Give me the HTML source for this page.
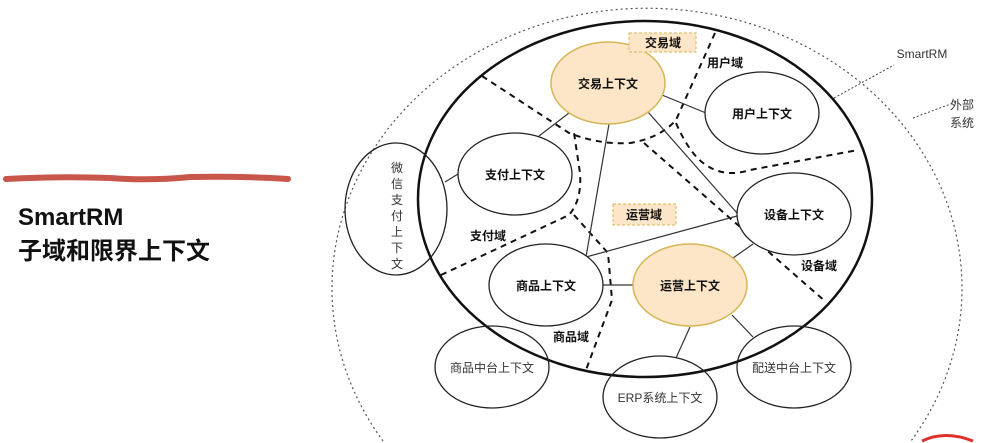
<!DOCTYPE html>
<html><head><meta charset="utf-8"><style>
html,body{margin:0;padding:0;background:#fff;width:988px;height:443px;overflow:hidden;}
svg{display:block;overflow:hidden;}
text{font-family:"Liberation Sans","Noto Sans CJK SC",sans-serif;}
</style></head><body>
<svg width="988" height="443" viewBox="0 0 988 443" xmlns="http://www.w3.org/2000/svg">
<path d="M6,179 Q60,176 110,178 Q150,181 190,177 Q240,176 288,179" stroke="#c8564a" stroke-width="6" fill="none" stroke-linecap="round"/>
<text x="18" y="225" font-size="24" font-weight="bold" fill="#111">SmartRM</text>
<text x="18" y="259" font-size="24" font-weight="bold" fill="#111">子域和限界上下文</text>

<path d="M383,441 A315,280 0 1 1 911,441" fill="none" stroke="#555" stroke-width="1.2" stroke-dasharray="2,3"/>
<ellipse cx="645" cy="199" rx="227" ry="178" fill="none" stroke="#111" stroke-width="2.5"/>

<g fill="none" stroke="#111" stroke-width="2" stroke-dasharray="6,5">
<path d="M482,76 L569,133 Q600,145 630,143 Q660,138 676,120 L715,33"/>
<path d="M441,275 L569,215 Q582,200 580,173 L574,133"/>
<path d="M574,215 L608,253 L612,300 L586,370"/>
<path d="M644,143 L826,302"/>
<path d="M676,123 Q690,155 706,165 Q725,178 750,170 L858,150"/>
</g>

<g stroke="#333" stroke-width="1.2">
<line x1="569" y1="113" x2="539" y2="136"/>
<line x1="662" y1="95" x2="706" y2="113"/>
<line x1="609" y1="124" x2="586" y2="257"/>
<line x1="648" y1="112" x2="737" y2="213"/>
<line x1="586" y1="257" x2="737" y2="216"/>
<line x1="458" y1="174" x2="445" y2="182"/>
<line x1="603" y1="285" x2="634" y2="285"/>
<line x1="733" y1="258" x2="753" y2="244"/>
<line x1="690" y1="327" x2="676" y2="358"/>
<line x1="732" y1="315" x2="753" y2="337"/>
</g>

<g stroke="#222" stroke-width="1.3" fill="#fff">
<ellipse cx="762" cy="113" rx="57" ry="41"/>
<ellipse cx="515" cy="174" rx="57" ry="41"/>
<ellipse cx="396" cy="209" rx="51" ry="66" fill="none"/>
<ellipse cx="794" cy="214" rx="57" ry="41"/>
<ellipse cx="546" cy="285" rx="57" ry="41"/>
<ellipse cx="492" cy="367" rx="57" ry="41" fill="none"/>
<ellipse cx="660" cy="397" rx="57" ry="41" fill="none"/>
<ellipse cx="794" cy="367" rx="57" ry="41" fill="none"/>
</g>
<g stroke="#d6b656" stroke-width="1.5" fill="#fde6c8">
<ellipse cx="608" cy="83" rx="57" ry="41"/>
<ellipse cx="690" cy="285" rx="57" ry="41"/>
</g>

<rect x="629" y="33" width="67" height="19" fill="#fde6c8" stroke="#d6b656" stroke-dasharray="3,2"/>
<rect x="613" y="204" width="63" height="21" fill="#fde6c8" stroke="#d6b656" stroke-dasharray="3,2"/>

<g font-size="12" font-weight="bold" fill="#111" text-anchor="middle">
<text x="663" y="47">交易域</text>
<text x="644" y="219">运营域</text>
<text x="608" y="88">交易上下文</text>
<text x="762" y="118">用户上下文</text>
<text x="515" y="179">支付上下文</text>
<text x="794" y="219">设备上下文</text>
<text x="546" y="290">商品上下文</text>
<text x="690" y="290">运营上下文</text>
<text x="725" y="67">用户域</text>
<text x="488" y="240">支付域</text>
<text x="819" y="270">设备域</text>
<text x="571" y="341">商品域</text>
</g>
<g font-size="12" fill="#333" text-anchor="middle">
<text x="492" y="372">商品中台上下文</text>
<text x="660" y="402">ERP系统上下文</text>
<text x="794" y="372">配送中台上下文</text>
<text x="397" y="172">微</text>
<text x="397" y="188">信</text>
<text x="397" y="204">支</text>
<text x="397" y="220">付</text>
<text x="397" y="236">上</text>
<text x="397" y="252">下</text>
<text x="397" y="268">文</text>
<text x="922" y="58">SmartRM</text>
<text x="962" y="109">外部</text>
<text x="962" y="127">系统</text>
</g>
<g stroke="#444" stroke-width="1" stroke-dasharray="2,2">
<line x1="834" y1="98" x2="894" y2="65"/>
<line x1="913" y1="118" x2="956" y2="102"/>
</g>
<path d="M922,441 Q945,430 973,441" fill="none" stroke="#e0302a" stroke-width="3"/>
</svg>
</body></html>
